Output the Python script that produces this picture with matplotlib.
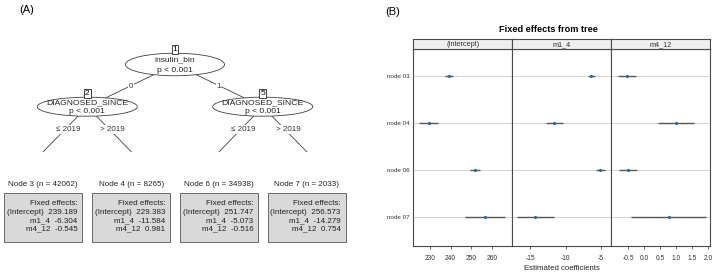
import matplotlib
matplotlib.use("Agg")
import matplotlib.pyplot as plt
from matplotlib.patches import Ellipse, Rectangle
import numpy as np

plt.rcParams["font.family"] = ["Liberation Sans", "DejaVu Sans"]

# ── data ──────────────────────────────────────────────────────────────────────
inner_ids = [1, 2, 5]
inner_vars = ["insulin_bin", "DIAGNOSED_SINCE", "DIAGNOSED_SINCE"]
inner_p = ["p < 0.001", "p < 0.001", "p < 0.001"]
split_labels = ["0", "1"]
year_labels = ["\u2264 2019", "> 2019"]

leaf_ids = [3, 4, 6, 7]
leaf_n = [42062, 8265, 34938, 2033]
coef_names = ["(Intercept)", "m1_4", "m4_12"]
intercept = [239.189, 229.383, 251.747, 256.573]
m1_4 = [-6.304, -11.584, -5.073, -14.279]
m4_12 = [-0.545, 0.981, -0.516, 0.754]
# half widths of the intervals
intercept_hw = [1.8, 4.7, 2.4, 9.6]
m1_4_hw = [0.5, 1.25, 0.65, 2.6]
m4_12_hw = [0.27, 0.56, 0.28, 1.16]

panel_ticks = [[230, 240, 250, 260],
               [-15, -10, -5],
               [-0.5, 0.0, 0.5, 1.0, 1.5, 2.0]]
panel_xlim = [(221.9, 269.9), (-17.6, -3.5), (-1.04, 2.05)]

W, H = 720, 278
fig = plt.figure(figsize=(W / 100, H / 100), dpi=100)

# ── (A) tree, drawn in pixel units ────────────────────────────────────────────
ax = fig.add_axes([0, 0, 0.5, 1])
ax.set_xlim(0, 360)
ax.set_ylim(H, 0)
ax.axis("off")
ax.text(27, 10, "(A)", fontsize=8, ha="center", va="center")

edge_c = "#404040"
inner_xy = {1: (175, 64.5), 2: (87.3, 106.7), 5: (262.7, 106.7)}
inner_size = {1: (99, 22.5), 2: (100, 19), 5: (100, 19)}
leaf_x = [43.2, 131.2, 219.2, 306.7]
leaf_top = 151.7

# edges
for child in (2, 5):
    ax.plot([inner_xy[1][0], inner_xy[child][0]], [inner_xy[1][1], inner_xy[child][1]],
            color=edge_c, lw=0.6, zorder=1)
for parent, leaves in ((2, leaf_x[:2]), (5, leaf_x[2:])):
    for lx in leaves:
        ax.plot([inner_xy[parent][0], lx], [inner_xy[parent][1], leaf_top],
                color=edge_c, lw=0.6, zorder=1)

# edge labels
for lab, x in zip(split_labels, (131, 218.3)):
    ax.text(x, 86, lab, fontsize=5.8, ha="center", va="center", color="#333333",
            bbox=dict(fc="white", ec="none", pad=0.3), zorder=2)
for base in (87.3, 262.7):
    for lab, dx in zip(year_labels, (-19.5, 25.4)):
        ax.text(base + dx, 129.3, lab, fontsize=5.8, ha="center", va="center",
                color="#333333", bbox=dict(fc="white", ec="none", pad=0.6), zorder=2)

# inner nodes
for nid, var, p in zip(inner_ids, inner_vars, inner_p):
    x, y = inner_xy[nid]
    w, h = inner_size[nid]
    ax.add_patch(Ellipse((x, y), w, h, fc="white", ec=edge_c, lw=0.6, zorder=3))
    ax.text(x, y - h * 0.22, var, fontsize=6.1, ha="center", va="center",
            color="#222222", zorder=4)
    ax.text(x, y + h * 0.25, p, fontsize=6.1, ha="center", va="center",
            color="#222222", zorder=4)
    ax.text(x, y - h / 2 - 4, str(nid), fontsize=6, ha="center", va="center",
            zorder=5, bbox=dict(boxstyle="square,pad=0.12", fc="white",
                                ec="#222222", lw=0.6))

# terminal nodes
bw, bh, btop = 78.3, 48.7, 193.3
for i, (lid, n) in enumerate(zip(leaf_ids, leaf_n)):
    cx = leaf_x[i]
    ax.text(cx, 184.3, f"Node {lid} (n = {n})", fontsize=5.8, ha="center",
            va="center", color="#222222")
    ax.add_patch(Rectangle((cx - bw / 2 + 1, btop + 1), bw, bh, fc="#b0b0b0",
                           ec="none", zorder=1))
    ax.add_patch(Rectangle((cx - bw / 2, btop), bw, bh, fc="#d9d9d9",
                           ec="#6a6a6a", lw=0.7, zorder=2))
    rx = cx + bw / 2 - 5
    vals = [intercept[i], m1_4[i], m4_12[i]]
    ax.text(rx, 203.3, "Fixed effects:", fontsize=5.8, ha="right", va="center",
            color="#222222", zorder=3)
    for j, (name, v) in enumerate(zip(coef_names, vals)):
        ax.text(rx, 212.7 + 8.2 * j, f"{name}  {v:.3f}", fontsize=5.8,
                ha="right", va="center", color="#222222", zorder=3)

# ── (B) dot plot of fixed effects ─────────────────────────────────────────────
fig.text(393 / W, 1 - 12 / H, "(B)", fontsize=8, ha="center", va="center")
fig.text(548 / W, 1 - 29 / H, "Fixed effects from tree", fontsize=6.6,
         fontweight="bold", ha="center", va="center")
fig.text(561.7 / W, 1 - 268 / H, "Estimated coefficients", fontsize=5.6,
         ha="center", va="center", color="#222222")

est = [intercept, m1_4, m4_12]
hws = [intercept_hw, m1_4_hw, m4_12_hw]
ypos = np.arange(1, len(leaf_ids) + 1)
ylabels = [f"node {lid:02d}" for lid in leaf_ids]
px0, pw = 413.3, 98.9
ptop, pbot = 49.3, 245.7
stop = 39.3
spine_c = "#4a4a4a"

for k in range(3):
    left = (px0 + k * pw) / W
    pax = fig.add_axes([left, 1 - pbot / H, pw / W, (pbot - ptop) / H])
    for yy in ypos:
        pax.axhline(yy, color="#d4d4d4", lw=0.7, zorder=1)
    e = np.array(est[k])
    hw = np.array(hws[k])
    pax.hlines(ypos, e - hw, e + hw, color="#555555", lw=1.0, zorder=2)
    pax.plot(e, ypos, "o", ms=2.3, color="#1f6fa5", mec="none", zorder=3)
    pax.set_xlim(*panel_xlim[k])
    pax.set_ylim(4.61, 0.426)
    pax.set_xticks(panel_ticks[k])
    pax.set_xticklabels([f"{t:g}" if k < 2 else f"{t:.1f}" for t in panel_ticks[k]])
    pax.tick_params(axis="x", labelsize=4.8, length=2.5, width=0.6, pad=4,
                    colors=spine_c, labelcolor="#333333")
    if k == 0:
        pax.set_yticks(ypos)
        pax.set_yticklabels(ylabels)
        pax.tick_params(axis="y", labelsize=4.5, length=0, pad=3,
                        labelcolor="#333333")
    else:
        pax.set_yticks([])
    for sp in pax.spines.values():
        sp.set_color(spine_c)
        sp.set_linewidth(0.8)

    sax = fig.add_axes([left, 1 - ptop / H, pw / W, (ptop - stop) / H])
    sax.set_facecolor("#efefef")
    sax.set_xticks([])
    sax.set_yticks([])
    for sp in sax.spines.values():
        sp.set_color(spine_c)
        sp.set_linewidth(0.8)
    sax.text(0.5, 0.45, coef_names[k], transform=sax.transAxes, fontsize=5.2,
             ha="center", va="center", color="#333333")

fig.savefig("out.png", dpi=100, facecolor="white")
